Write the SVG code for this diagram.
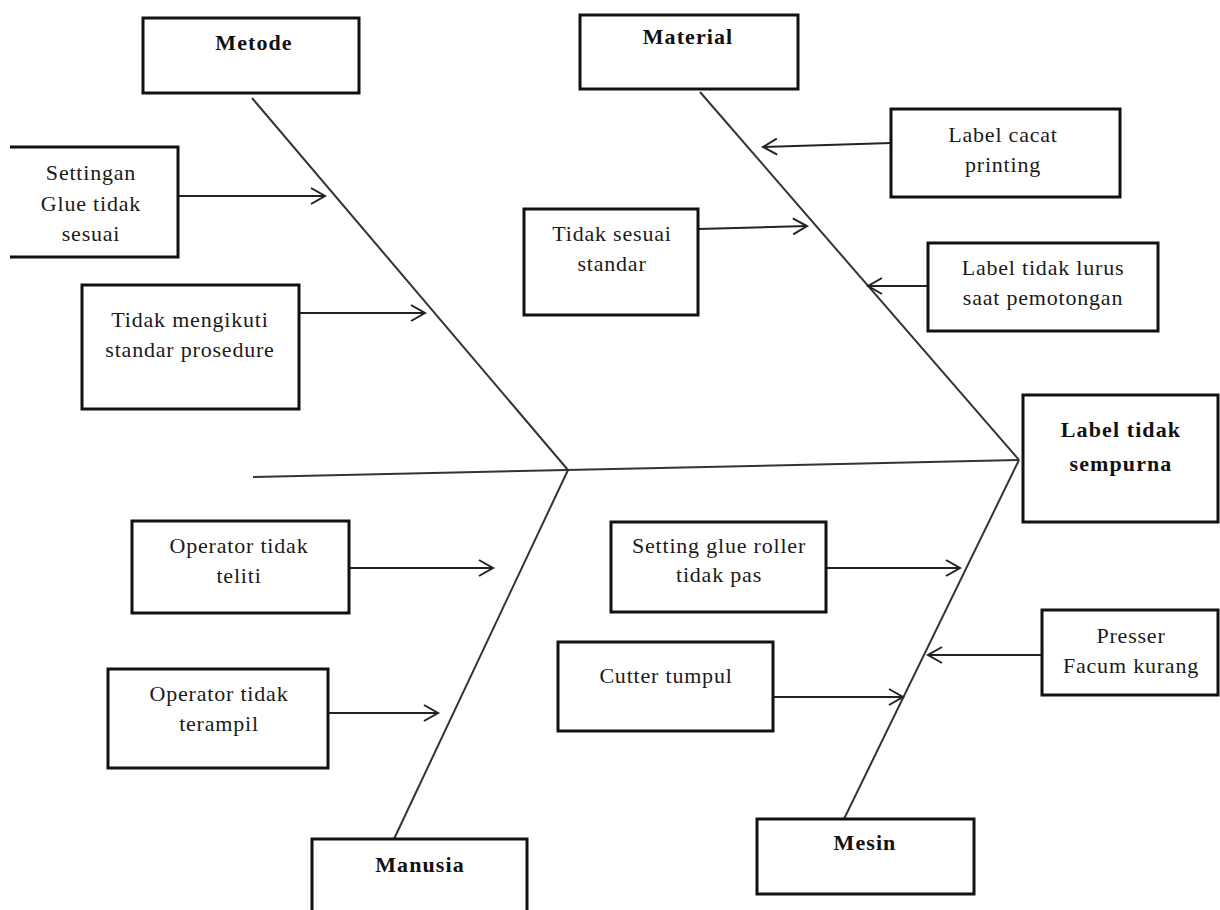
<svg xmlns="http://www.w3.org/2000/svg" width="1220" height="910" viewBox="0 0 1220 910">
  <style>
    .box { fill: #ffffff; stroke: #111111; stroke-width: 3; }
    .bone { fill: none; stroke: #333333; stroke-width: 2; }
    .arrow { fill: none; stroke: #222222; stroke-width: 2; marker-end: url(#chevron); }
    .t { font-family: "Liberation Serif", "Times New Roman", serif; font-size: 22px; letter-spacing: 0.8px; fill: #1a1a1a; text-anchor: middle; }
    .b { font-family: "Liberation Serif", "Times New Roman", serif; font-size: 22px; letter-spacing: 1.1px; font-weight: bold; fill: #111111; text-anchor: middle; }
  </style>
  <defs>
    <marker id="chevron" markerUnits="userSpaceOnUse" markerWidth="20" markerHeight="20" refX="15" refY="9" orient="auto">
      <path d="M1,1 L15,9 L1,17" fill="none" stroke="#222222" stroke-width="2"/>
    </marker>
  </defs>
  <rect width="1220" height="910" fill="#ffffff"/>

  <!-- spine and main bones -->
  <g id="connectors">
    <line class="bone" x1="253" y1="477" x2="1019" y2="460"/>
    <line class="bone" x1="252" y1="98" x2="568" y2="470"/>
    <line class="bone" x1="568" y1="470" x2="394" y2="839"/>
    <line class="bone" x1="700" y1="92" x2="1019" y2="460"/>
    <line class="bone" x1="1019" y1="460" x2="844" y2="819"/>

    <line class="arrow" x1="178" y1="196" x2="325" y2="196"/>
    <line class="arrow" x1="299" y1="313" x2="425" y2="313"/>
    <line class="arrow" x1="698" y1="229" x2="807" y2="226"/>
    <line class="arrow" x1="891" y1="143" x2="763" y2="147"/>
    <line class="arrow" x1="928" y1="286" x2="868" y2="286"/>
    <line class="arrow" x1="349" y1="568" x2="493" y2="568"/>
    <line class="arrow" x1="328" y1="713" x2="438" y2="713"/>
    <line class="arrow" x1="826" y1="568" x2="960" y2="568"/>
    <line class="arrow" x1="1042" y1="655" x2="928" y2="655"/>
    <line class="arrow" x1="773" y1="697" x2="903" y2="697"/>
  </g>

  <g id="metode">
    <rect class="box" x="143" y="18" width="216" height="75"/>
    <text class="b" x="254" y="50">Metode</text>
  </g>
  <g id="material">
    <rect class="box" x="580" y="15" width="218" height="74"/>
    <text class="b" x="688" y="44">Material</text>
  </g>
  <g id="settingan-glue">
    <path class="box" d="M10,147 H178 V257 H10" />
    <text class="t" x="91" y="180">Settingan</text>
    <text class="t" x="91" y="211">Glue tidak</text>
    <text class="t" x="91" y="241">sesuai</text>
  </g>
  <g id="tidak-mengikuti">
    <rect class="box" x="82" y="285" width="217" height="124"/>
    <text class="t" x="190" y="327">Tidak mengikuti</text>
    <text class="t" x="190" y="357">standar prosedure</text>
  </g>
  <g id="tidak-sesuai">
    <rect class="box" x="524" y="209" width="174" height="106"/>
    <text class="t" x="612" y="241">Tidak sesuai</text>
    <text class="t" x="612" y="271">standar</text>
  </g>
  <g id="label-cacat">
    <rect class="box" x="891" y="109" width="229" height="88"/>
    <text class="t" x="1003" y="142">Label cacat</text>
    <text class="t" x="1003" y="172">printing</text>
  </g>
  <g id="label-tidak-lurus">
    <rect class="box" x="928" y="243" width="230" height="88"/>
    <text class="t" x="1043" y="275">Label tidak lurus</text>
    <text class="t" x="1043" y="305">saat pemotongan</text>
  </g>
  <g id="label-tidak-sempurna">
    <rect class="box" x="1023" y="395" width="195" height="127"/>
    <text class="b" x="1121" y="437">Label tidak</text>
    <text class="b" x="1121" y="471">sempurna</text>
  </g>
  <g id="operator-teliti">
    <rect class="box" x="132" y="521" width="217" height="92"/>
    <text class="t" x="239" y="553">Operator tidak</text>
    <text class="t" x="239" y="583">teliti</text>
  </g>
  <g id="operator-terampil">
    <rect class="box" x="108" y="669" width="220" height="99"/>
    <text class="t" x="219" y="701">Operator tidak</text>
    <text class="t" x="219" y="731">terampil</text>
  </g>
  <g id="manusia">
    <rect class="box" x="312" y="839" width="215" height="90"/>
    <text class="b" x="420" y="872">Manusia</text>
  </g>
  <g id="setting-glue-roller">
    <rect class="box" x="611" y="522" width="215" height="90"/>
    <text class="t" x="719" y="553">Setting glue roller</text>
    <text class="t" x="719" y="582">tidak pas</text>
  </g>
  <g id="cutter-tumpul">
    <rect class="box" x="558" y="642" width="215" height="89"/>
    <text class="t" x="666" y="683">Cutter tumpul</text>
  </g>
  <g id="presser-facum">
    <rect class="box" x="1042" y="610" width="176" height="85"/>
    <text class="t" x="1131" y="643">Presser</text>
    <text class="t" x="1131" y="673">Facum kurang</text>
  </g>
  <g id="mesin">
    <rect class="box" x="757" y="819" width="217" height="75"/>
    <text class="b" x="865" y="850">Mesin</text>
  </g>
</svg>
